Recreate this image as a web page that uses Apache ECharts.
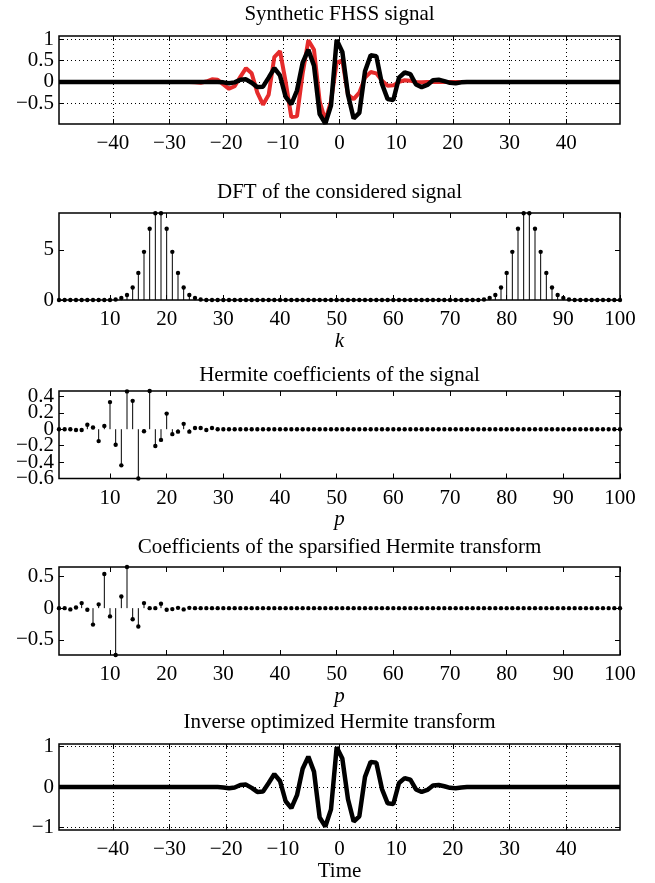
<!DOCTYPE html>
<html>
<head>
<meta charset="utf-8">
<script src="https://cdn.jsdelivr.net/npm/echarts@6/dist/echarts.min.js"></script>
<style>
  html, body { margin: 0; padding: 0; background: #fff; }
  #main { width: 655px; height: 883px; }
</style>
</head>
<body>
<div id="main"></div>
<script>
// sample grids
var timeAxis = [];
for (var i = 0; i < 100; i++) timeAxis.push(i - 49.5);
var coefIndex = [];
for (var j = 1; j <= 100; j++) coefIndex.push(j);

// synthetic FHSS signal (red)
var signalRed = [
  0, 0, 0, 0, 0, 0, 0, 0, 0, 0,
  0, 0, 0, 0, 0, 0, 0, 0, 0, 0,
  0, 0, 0, 0, -0.01, -0.02, 0.01, 0.06, 0.05, -0.06,
  -0.16, -0.1, 0.12, 0.32, 0.2, -0.25, -0.53, -0.3, 0.58, 0.72,
  0, -0.82, -0.8, 0.2, 0.97, 0.75, -0.45, -0.9, -0.45, 0.45,
  0.5, -0.3, -0.4, -0.25, 0.1, 0.23, 0.2, 0.03, -0.09, -0.08,
  0, 0.04, 0.03, 0, -0.01, 0, 0, 0, 0, 0,
  0, 0, 0, 0, 0, 0, 0, 0, 0, 0,
  0, 0, 0, 0, 0, 0, 0, 0, 0, 0,
  0, 0, 0, 0, 0, 0, 0, 0, 0, 0
];

// reconstructed signal (black, top and bottom panels)
var signalBlack = [
  0, 0, 0, 0, 0, 0, 0, 0, 0, 0,
  0, 0, 0, 0, 0, 0, 0, 0, 0, 0,
  0, 0, 0, 0, 0, 0, 0, 0, 0, -0.01,
  -0.03, -0.01, 0.05, 0.06, -0.02, -0.12, -0.11, 0.1, 0.32, 0.15,
  -0.35, -0.52, -0.2, 0.45, 0.75, 0.38, -0.75, -0.97, -0.55, 0.98,
  0.7, -0.3, -0.85, -0.72, 0.25, 0.62, 0.6, -0.05, -0.4, -0.42,
  0.1, 0.22, 0.18, -0.06, -0.12, -0.07, 0.04, 0.05, 0.02, -0.02,
  -0.03, -0.01, 0, 0, 0, 0, 0, 0, 0, 0,
  0, 0, 0, 0, 0, 0, 0, 0, 0, 0,
  0, 0, 0, 0, 0, 0, 0, 0, 0, 0
];

// |DFT|, k = 1..100
var dftMag = [
  0, 0, 0, 0, 0, 0, 0, 0, 0, 0,
  0.05, 0.2, 0.5, 1.25, 2.7, 4.8, 7.1, 8.65, 8.65, 7.1,
  4.8, 2.7, 1.25, 0.5, 0.2, 0.05, 0, 0, 0, 0,
  0, 0, 0, 0, 0, 0, 0, 0, 0, 0,
  0, 0, 0, 0, 0, 0, 0, 0, 0, 0,
  0, 0, 0, 0, 0, 0, 0, 0, 0, 0,
  0, 0, 0, 0, 0, 0, 0, 0, 0, 0,
  0, 0, 0, 0, 0, 0.05, 0.2, 0.5, 1.25, 2.7,
  4.8, 7.1, 8.65, 8.65, 7.1, 4.8, 2.7, 1.25, 0.5, 0.2,
  0.05, 0, 0, 0, 0, 0, 0, 0, 0, 0
];

// Hermite coefficients, p = 1..100
var hermCoef = [
  0, 0, 0, -0.01, -0.01, 0.055, 0.02, -0.145, 0.04, 0.33,
  -0.19, -0.44, 0.46, 0.345, -0.6, -0.025, 0.465, -0.205, -0.13, 0.19,
  -0.06, -0.03, 0.065, -0.03, 0.015, 0.015, -0.01, 0.015, 0, 0,
  0, 0, 0, 0, 0, 0, 0, 0, 0, 0,
  0, 0, 0, 0, 0, 0, 0, 0, 0, 0,
  0, 0, 0, 0, 0, 0, 0, 0, 0, 0,
  0, 0, 0, 0, 0, 0, 0, 0, 0, 0,
  0, 0, 0, 0, 0, 0, 0, 0, 0, 0,
  0, 0, 0, 0, 0, 0, 0, 0, 0, 0,
  0, 0, 0, 0, 0, 0, 0, 0, 0, 0
];

// sparsified Hermite coefficients, p = 1..100
var sparseCoef = [
  0, 0, -0.02, 0.01, 0.08, -0.025, -0.26, 0.06, 0.54, -0.13,
  -0.74, 0.185, 0.65, -0.175, -0.29, 0.08, 0, 0, 0.07, -0.025,
  -0.015, 0.005, -0.02, 0.005, 0, 0, 0, 0, 0, 0,
  0, 0, 0, 0, 0, 0, 0, 0, 0, 0,
  0, 0, 0, 0, 0, 0, 0, 0, 0, 0,
  0, 0, 0, 0, 0, 0, 0, 0, 0, 0,
  0, 0, 0, 0, 0, 0, 0, 0, 0, 0,
  0, 0, 0, 0, 0, 0, 0, 0, 0, 0,
  0, 0, 0, 0, 0, 0, 0, 0, 0, 0,
  0, 0, 0, 0, 0, 0, 0, 0, 0, 0
];

// tick labels
var timeTicks = [-40, -30, -20, -10, 0, 10, 20, 30, 40];
var indexTicks = [10, 20, 30, 40, 50, 60, 70, 80, 90, 100];
var sigTicks = [-0.5, 0, 0.5, 1];
var dftTicks = [0, 5];
var hermTicks = [-0.6, -0.4, -0.2, 0, 0.2, 0.4];
var sparseTicks = [-0.5, 0, 0.5];
var reconTicks = [-1, 0, 1];

var panelTitles = [
  'Synthetic FHSS signal',
  'DFT of the considered signal',
  'Hermite coefficients of the signal',
  'Coefficients of the sparsified Hermite transform',
  'Inverse optimized Hermite transform'
];
var axisNames = ['', 'k', 'p', 'p', 'Time'];

var FONT = 'Liberation Serif';
var panels = [
  { top: 36, height: 88, x: [-49.5, 49.5], y: [-0.98, 1.07], xt: timeTicks, yt: sigTicks, grid: true, titleY: 14 },
  { top: 213, height: 87, x: [1, 100], y: [0, 8.67], xt: indexTicks, yt: dftTicks, grid: false, titleY: 192 },
  { top: 391, height: 87.5, x: [1, 100], y: [-0.6, 0.465], xt: indexTicks, yt: hermTicks, grid: false, titleY: 375 },
  { top: 567, height: 88, x: [1, 100], y: [-0.74, 0.65], xt: indexTicks, yt: sparseTicks, grid: false, titleY: 547 },
  { top: 744, height: 87, x: [-49.5, 49.5], y: [-1.06, 1.06], xt: timeTicks, yt: reconTicks, grid: true, titleY: 722 }
];

function fmt (v) {
  return String(Math.round(v * 100) / 100).replace('-', '\u2212');
}

function pairs (xs, ys) {
  return xs.map(function (x, i) { return [x, ys[i]]; });
}

function stemItem (params, api) {
  var x = api.value(0);
  var y = api.value(1);
  var tip = api.coord([x, y]);
  var base = api.coord([x, 0]);
  return {
    type: 'group',
    children: [
      { type: 'line', shape: { x1: base[0], y1: base[1], x2: tip[0], y2: tip[1] },
        style: { stroke: '#000', lineWidth: 1 } },
      { type: 'circle', shape: { cx: tip[0], cy: tip[1], r: 2.2 },
        style: { fill: '#000' } }
    ]
  };
}

var grids = [], xAxes = [], yAxes = [], graphics = [];
panels.forEach(function (p, g) {
  grids.push({
    left: 59, right: 35, top: p.top, height: p.height,
    show: true, borderColor: '#000', borderWidth: 1.5
  });
  var tickStyle = { show: true, inside: true, length: 5, lineStyle: { color: '#000', width: 1 } };
  var dotted = { show: p.grid, lineStyle: { color: '#000', width: 1, type: [1, 3] } };
  var labelStyle = { show: true, formatter: fmt, color: '#000', fontFamily: FONT, fontSize: 21,
    showMinLabel: true, showMaxLabel: true, hideOverlap: false };
  // the y labels are split over two stacked left axes, so tightly packed
  // labels (Hermite panel) are not dropped by the overlap check
  var evenY = p.yt.filter(function (v, k) { return k % 2 === 0; });
  var oddY = p.yt.filter(function (v, k) { return k % 2 === 1; });

  xAxes.push({
    type: 'value', gridIndex: g, min: p.x[0], max: p.x[1], position: 'bottom',
    axisLine: { show: false, onZero: false },
    axisTick: Object.assign({ customValues: p.xt }, tickStyle),
    axisLabel: Object.assign({ customValues: p.xt, margin: 9 }, labelStyle),
    splitLine: dotted,
    name: axisNames[g], nameLocation: 'middle', nameGap: 26,
    nameTextStyle: { fontFamily: FONT, fontSize: 21, color: '#000',
      fontStyle: axisNames[g] === 'Time' ? 'normal' : 'italic' }
  });
  xAxes.push({
    type: 'value', gridIndex: g, min: p.x[0], max: p.x[1], position: 'top',
    axisLine: { show: false, onZero: false },
    axisTick: Object.assign({ customValues: p.xt }, tickStyle),
    axisLabel: { show: false }, splitLine: { show: false }
  });
  yAxes.push({
    type: 'value', gridIndex: g, min: p.y[0], max: p.y[1], position: 'left',
    axisLine: { show: false, onZero: false },
    axisTick: Object.assign({ customValues: p.yt }, tickStyle),
    axisLabel: Object.assign({ customValues: evenY, margin: 5 }, labelStyle),
    splitLine: dotted
  });
  yAxes.push({
    type: 'value', gridIndex: g, min: p.y[0], max: p.y[1], position: 'right',
    axisLine: { show: false, onZero: false },
    axisTick: Object.assign({ customValues: p.yt }, tickStyle),
    axisLabel: { show: false }, splitLine: { show: false }
  });
  yAxes.push({
    type: 'value', gridIndex: g, min: p.y[0], max: p.y[1], position: 'left',
    axisLine: { show: false, onZero: false },
    axisTick: { show: false },
    axisLabel: Object.assign({ customValues: oddY, margin: 5 }, labelStyle),
    splitLine: { show: false }
  });
  graphics.push({
    type: 'text', x: 339.5, y: p.titleY,
    style: { text: panelTitles[g], font: '21px "Liberation Serif"', fill: '#000',
      textAlign: 'center', textVerticalAlign: 'middle' }
  });
});

var series = [
  { type: 'line', xAxisIndex: 0, yAxisIndex: 0, data: pairs(timeAxis, signalRed),
    showSymbol: false, lineStyle: { color: '#e52b2b', width: 4 }, z: 2 },
  { type: 'line', xAxisIndex: 0, yAxisIndex: 0, data: pairs(timeAxis, signalBlack),
    showSymbol: false, lineStyle: { color: '#000', width: 4.5 }, z: 3 },
  { type: 'custom', xAxisIndex: 2, yAxisIndex: 3, data: pairs(coefIndex, dftMag),
    renderItem: stemItem },
  { type: 'custom', xAxisIndex: 4, yAxisIndex: 6, data: pairs(coefIndex, hermCoef),
    renderItem: stemItem },
  { type: 'custom', xAxisIndex: 6, yAxisIndex: 9, data: pairs(coefIndex, sparseCoef),
    renderItem: stemItem },
  { type: 'line', xAxisIndex: 8, yAxisIndex: 12, data: pairs(timeAxis, signalBlack),
    showSymbol: false, lineStyle: { color: '#000', width: 4.5 } }
];

var myChart = echarts.init(document.getElementById('main'));
var option = {
  animation: false,
  backgroundColor: '#fff',
  grid: grids,
  xAxis: xAxes,
  yAxis: yAxes,
  series: series,
  graphic: graphics
};
option && myChart.setOption(option);
</script>
</body>
</html>
